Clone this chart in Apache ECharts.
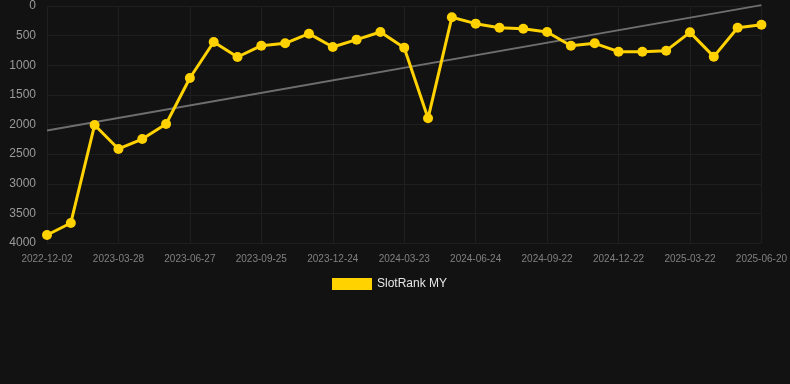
<!DOCTYPE html>
<html>
<head>
<meta charset="utf-8">
<script src="https://cdn.jsdelivr.net/npm/echarts@6/dist/echarts.min.js"></script>
<style>
html,body{margin:0;padding:0;background:#121212;}
#c{width:790px;height:384px;}
</style>
</head>
<body>
<div id="c"></div>
<script>
const categories = [
  '2022-12-02','2023-01-10','2023-02-18','2023-03-28','2023-04-27','2023-05-27',
  '2023-06-27','2023-07-27','2023-08-26','2023-09-25','2023-10-25','2023-11-24',
  '2023-12-24','2024-01-23','2024-02-22','2024-03-23','2024-04-23','2024-05-24',
  '2024-06-24','2024-07-24','2024-08-23','2024-09-22','2024-10-22','2024-11-21',
  '2024-12-22','2025-01-21','2025-02-20','2025-03-22','2025-04-21','2025-05-21',
  '2025-06-20'
];
const rankValues = [
  3865, 3662, 2008, 2413, 2245, 1991, 1215, 608, 861, 670, 630, 467,
  692, 568, 439, 703, 1896, 191, 298, 366, 383, 439, 670, 630,
  771, 771, 754, 445, 855, 366, 315
];
const trendStart = 2100;
const trendEnd = -15;
const yTicks = { min: 0, max: 4000, interval: 500 };

const trendData = categories.map((c, i) => (i === 0 ? trendStart : (i === categories.length - 1 ? trendEnd : '-')));

const chart = echarts.init(document.getElementById('c'), null, { renderer: 'canvas' });
chart.setOption({
  backgroundColor: '#121212',
  animation: false,
  grid: { left: 47, right: 28, top: 6, bottom: 141, containLabel: false },
  legend: {
    data: ['SlotRank MY'],
    left: 327,
    top: 273,
    icon: 'rect',
    itemWidth: 40,
    itemHeight: 12,
    itemGap: 10,
    textStyle: { color: '#e6e6e6', fontSize: 12, fontFamily: 'Liberation Sans, Arial, sans-serif' }
  },
  xAxis: {
    type: 'category',
    data: categories,
    boundaryGap: false,
    axisLine: { show: false },
    axisTick: { show: false },
    axisLabel: { interval: 2, color: '#808080', fontSize: 10, margin: 11, fontFamily: 'Liberation Sans, Arial, sans-serif' },
    splitLine: { show: true, interval: 2, lineStyle: { color: '#1f1f1f', width: 1 } }
  },
  yAxis: {
    type: 'value',
    inverse: true,
    min: yTicks.min,
    max: yTicks.max,
    interval: yTicks.interval,
    axisLine: { show: false },
    axisTick: { show: false },
    axisLabel: { color: '#9a9a9a', fontSize: 12, margin: 11, fontFamily: 'Liberation Sans, Arial, sans-serif', formatter: v => String(v) },
    splitLine: { show: true, lineStyle: { color: '#1f1f1f', width: 1 } }
  },
  series: [
    {
      name: 'Trend',
      type: 'line',
      data: trendData,
      connectNulls: true,
      symbol: 'none',
      clip: false,
      lineStyle: { color: '#6e6e6e', width: 2 },
      z: 1,
      silent: true
    },
    {
      name: 'SlotRank MY',
      type: 'line',
      data: rankValues,
      symbol: 'circle',
      symbolSize: 10,
      itemStyle: { color: '#ffd200' },
      lineStyle: { color: '#ffd200', width: 3 },
      z: 2
    }
  ]
});
</script>
</body>
</html>
